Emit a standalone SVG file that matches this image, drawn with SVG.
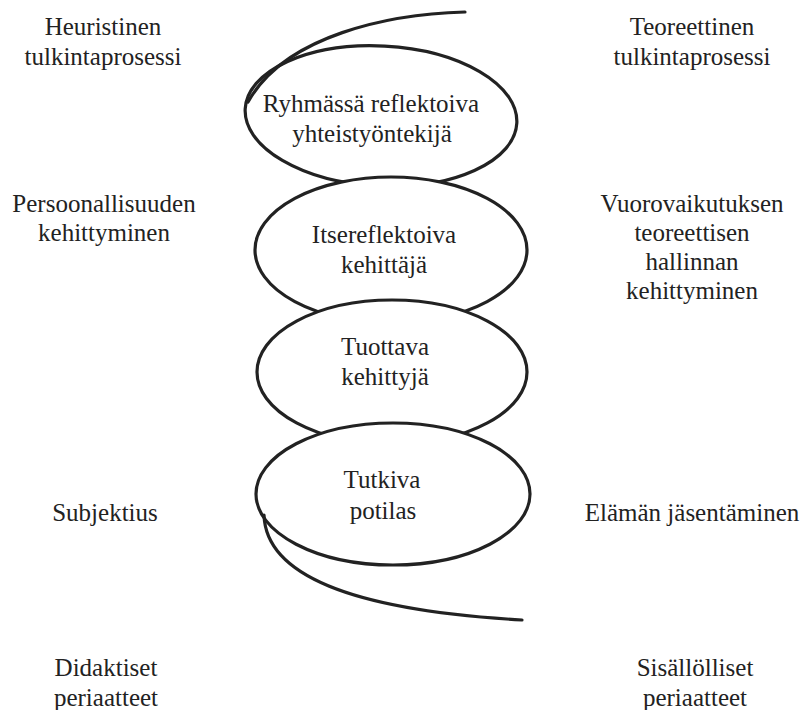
<svg xmlns="http://www.w3.org/2000/svg" width="805" height="710" viewBox="0 0 805 710">
<style>
.t{font-family:"Liberation Serif","Times New Roman",serif;font-size:25px;fill:#222;text-anchor:middle}
.e{fill:#fff;stroke:#222;stroke-width:3.2}
.c{fill:none;stroke:#222;stroke-width:3.2;stroke-linecap:round}
</style>
<rect width="805" height="710" fill="#fff"/>
<g id="labels">
<g id="heuristinen"><text class="t" x="103" y="35">Heuristinen</text><text class="t" x="103" y="65">tulkintaprosessi</text></g>
<g id="teoreettinen"><text class="t" x="692" y="35">Teoreettinen</text><text class="t" x="692" y="65">tulkintaprosessi</text></g>
<g id="persoonallisuus"><text class="t" x="104" y="212">Persoonallisuuden</text><text class="t" x="104" y="241">kehittyminen</text></g>
<g id="vuorovaikutus"><text class="t" x="692" y="212">Vuorovaikutuksen</text><text class="t" x="692" y="241">teoreettisen</text><text class="t" x="692" y="270">hallinnan</text><text class="t" x="692" y="299">kehittyminen</text></g>
<g id="subjektius"><text class="t" x="105" y="521">Subjektius</text></g>
<g id="elaman"><text class="t" x="692" y="521">Elämän jäsentäminen</text></g>
<g id="didaktiset"><text class="t" x="106" y="676">Didaktiset</text><text class="t" x="106" y="706">periaatteet</text></g>
<g id="sisallolliset"><text class="t" x="695" y="676">Sisällölliset</text><text class="t" x="695" y="706">periaatteet</text></g>
</g>
<g id="node1"><ellipse class="e" cx="381" cy="116" rx="136" ry="70" transform="rotate(3 381 116)"/><text class="t" x="371" y="112">Ryhmässä reflektoiva</text><text class="t" x="372" y="142">yhteistyöntekijä</text></g>
<g id="node2"><ellipse class="e" cx="391" cy="250" rx="136" ry="73"/><text class="t" x="384" y="243">Itsereflektoiva</text><text class="t" x="384" y="273">kehittäjä</text></g>
<g id="node3"><ellipse class="e" cx="392" cy="372" rx="135" ry="72"/><text class="t" x="385" y="355">Tuottava</text><text class="t" x="385" y="385">kehittyjä</text></g>
<g id="node4"><ellipse class="e" cx="393" cy="494" rx="137" ry="71"/><text class="t" x="382" y="488">Tutkiva</text><text class="t" x="383" y="519">potilas</text></g>
<g id="connectors">
<path class="c" d="M465 12 C390 14 285 35 248 102"/>
<path class="c" d="M264 515 C266 575 350 610 522 620"/>
</g>
</svg>
